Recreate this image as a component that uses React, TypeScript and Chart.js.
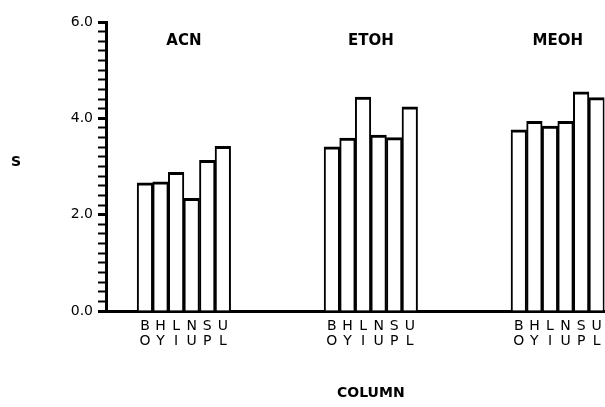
import React, { useEffect, useRef } from 'react';
import { Chart, registerables } from 'chart.js';

Chart.register(...registerables);

// ---- data ----
const groups = ['ACN', 'ETOH', 'MEOH'];
const columns = ['BO', 'HY', 'LI', 'NU', 'SP', 'UL'];
const acnValues = [2.66, 2.68, 2.88, 2.34, 3.13, 3.42];
const etohValues = [3.41, 3.59, 4.44, 3.65, 3.6, 4.24];
const meohValues = [3.76, 3.94, 3.84, 3.94, 4.55, 4.43];
const yTickLabels = ['0.0', '2.0', '4.0', '6.0'];
const yAxisTitle = 'S';
const xAxisTitle = 'COLUMN';

const groupValues = [acnValues, etohValues, meohValues];
const LEAD_GAP = 2;
const GROUP_GAP = 6;

// build the per-slot table (empty slots separate the groups)
const labels: (string | string[])[] = [];
const values: (number | null)[] = [];
const groupRanges: [number, number][] = [];
for (let i = 0; i < LEAD_GAP; i++) { labels.push(''); values.push(null); }
groupValues.forEach((vals, g) => {
  if (g > 0) for (let i = 0; i < GROUP_GAP; i++) { labels.push(''); values.push(null); }
  const start = labels.length;
  columns.forEach((c, i) => { labels.push([c[0], c[1]]); values.push(vals[i]); });
  groupRanges.push([start, labels.length - 1]);
});

const FONT = "'DejaVu Sans', sans-serif";

const textPlugin = {
  id: 'textPlugin',
  afterDraw(chart: any) {
    const { ctx } = chart;
    const x = chart.scales.x;
    ctx.save();
    ctx.fillStyle = '#000';
    ctx.textAlign = 'center';
    ctx.textBaseline = 'middle';
    ctx.font = `bold 15px ${FONT}`;
    groupRanges.forEach(([a, b], g) => {
      const cx = (x.getPixelForValue(a) + x.getPixelForValue(b)) / 2;
      ctx.fillText(groups[g], cx, 41);
    });
    ctx.font = `bold 14px ${FONT}`;
    ctx.fillText(yAxisTitle, 16, 162);
    const [ma, mb] = groupRanges[1];
    const mx = (x.getPixelForValue(ma) + x.getPixelForValue(mb)) / 2;
    ctx.fillText(xAxisTitle, mx, 393);
    ctx.restore();
  },
};

export default function App() {
  const ref = useRef<HTMLCanvasElement>(null);
  useEffect(() => {
    if (!ref.current) return;
    const chart = new Chart(ref.current, {
      type: 'bar',
      data: {
        labels,
        datasets: [
          {
            data: values,
            backgroundColor: '#ffffff',
            borderColor: '#000000',
            borderWidth: { top: 3, left: 2, right: 2, bottom: 0 },
            borderSkipped: 'start',
            barPercentage: 1,
            categoryPercentage: 1,
          },
        ],
      },
      options: {
        responsive: false,
        animation: false,
        events: [],
        layout: { padding: { top: 22, right: 15.5, bottom: 0, left: 0 } },
        plugins: { legend: { display: false }, tooltip: { enabled: false } },
        scales: {
          x: {
            type: 'category',
            afterFit: (s: any) => { s.height = 96; },
            grid: { display: true, drawOnChartArea: false, drawTicks: false },
            border: { display: true, color: '#000', width: 3 },
            ticks: {
              autoSkip: false,
              maxRotation: 0,
              minRotation: 0,
              padding: 8,
              color: '#000',
              font: { family: FONT, size: 14, lineHeight: 1.05 },
            },
          },
          y: {
            min: 0,
            max: 6,
            afterFit: (s: any) => { s.width = 106; },
            grid: {
              drawOnChartArea: false,
              drawTicks: true,
              tickLength: 8,
              tickColor: '#000',
              tickWidth: (c: any) => {
                const v = c.tick ? c.tick.value : 0;
                return Math.abs(v / 2 - Math.round(v / 2)) < 1e-6 ? 3 : 2;
              },
            },
            border: { display: true, color: '#000', width: 3 },
            ticks: {
              stepSize: 0.2,
              autoSkip: false,
              padding: 5,
              color: '#000',
              font: { family: FONT, size: 14 },
              callback: (v: any) => {
                const n = Number(v);
                const lbl = yTickLabels.find((t) => Math.abs(parseFloat(t) - n) < 1e-6);
                return lbl ?? '';
              },
            },
          },
        },
      },
      plugins: [textPlugin],
    });
    return () => chart.destroy();
  }, []);
  return (
    <div style={{ position: 'absolute', left: 0, top: 0, width: 605, height: 407, overflow: 'hidden', background: '#fff' }}>
      <canvas ref={ref} width={620} height={407} style={{ width: 620, height: 407, display: 'block' }} />
    </div>
  );
}
